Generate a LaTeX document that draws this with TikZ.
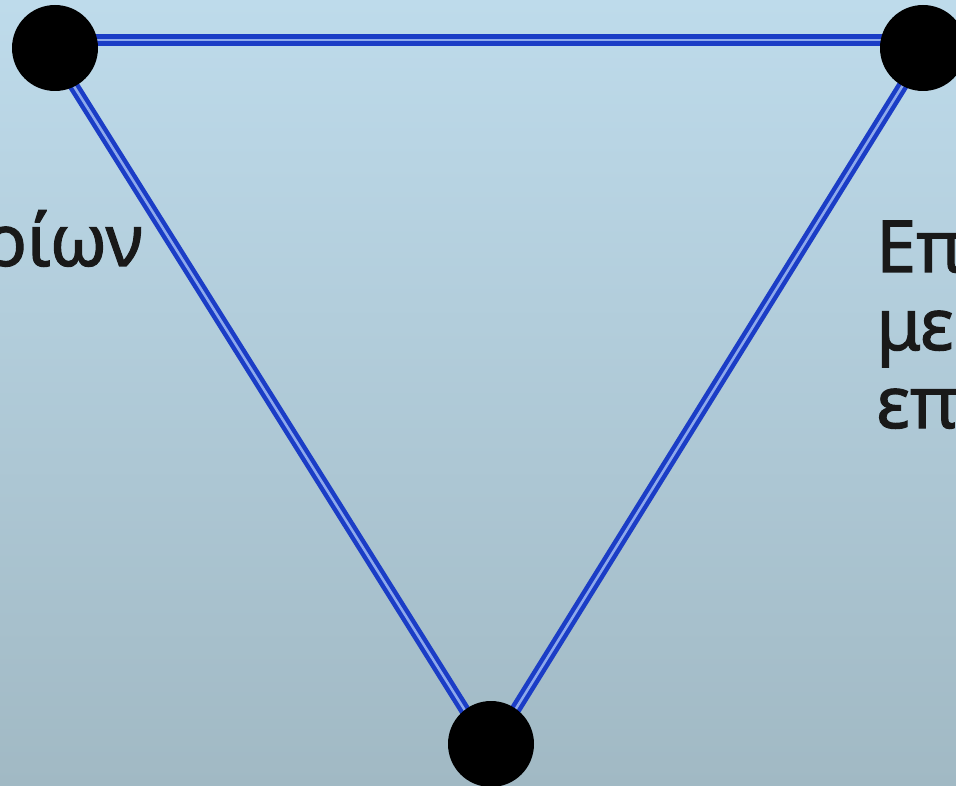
\documentclass[tikz,border=0pt]{standalone}
\usepackage{fontspec}
\setmainfont{Noto Sans}
\newfontfamily\lblfont{Noto Sans}[FakeBold=1.5]
\usetikzlibrary{positioning}

\definecolor{bgtop}{HTML}{BEDBEB}
\definecolor{bgbot}{HTML}{A1B9C4}
\definecolor{edgeblue}{HTML}{1B3DC6}
\definecolor{edgelight}{HTML}{8EA9EC}

\pgfdeclarelayer{back}
\pgfdeclarelayer{edges}
\pgfsetlayers{back,edges,main}

\begin{document}
\begin{tikzpicture}[
  x=1pt, y=-1pt,
  dot/.style={circle, fill=black, inner sep=0pt, minimum size=86pt},
  edge/.style={draw=edgeblue, line width=4.5pt, double=edgelight, double distance=2.5pt},
  lbl/.style={font=\lblfont\fontsize{72}{78}\selectfont, inner sep=0pt, text=black!90}
]

\useasboundingbox (0,0) rectangle (956,786);
\clip (0,0) rectangle (956,786);

\begin{pgfonlayer}{back}
\shade [top color=bgtop, bottom color=bgbot] (0,0) rectangle (956,786);
\end{pgfonlayer}

% vertices
\node (tl) [dot] at (55,48) {};
\node (tr) [dot] at (923,48) {};
\node (bt) [dot] at (491,744) {};

% texts
\node (lefttext) [lbl, anchor=base east] at (143,266) {ρίων};
\node (right1) [lbl, anchor=base west] at (876,272) {Επ};
\node (right2) [lbl, anchor=base west] at (876,350) {με};
\node (right3) [lbl, anchor=base west] at (876,428) {επι};

% edges
\begin{pgfonlayer}{edges}
\draw [edge] ([yshift=8pt]tl.center) -- ([yshift=8pt]tr.center);
\draw [edge] ([xshift=-5pt]tl.center) -- ([xshift=-5pt]bt.center);
\draw [edge] ([xshift=3pt]tr.center) -- ([xshift=3pt]bt.center);
\end{pgfonlayer}

\end{tikzpicture}
\end{document}
